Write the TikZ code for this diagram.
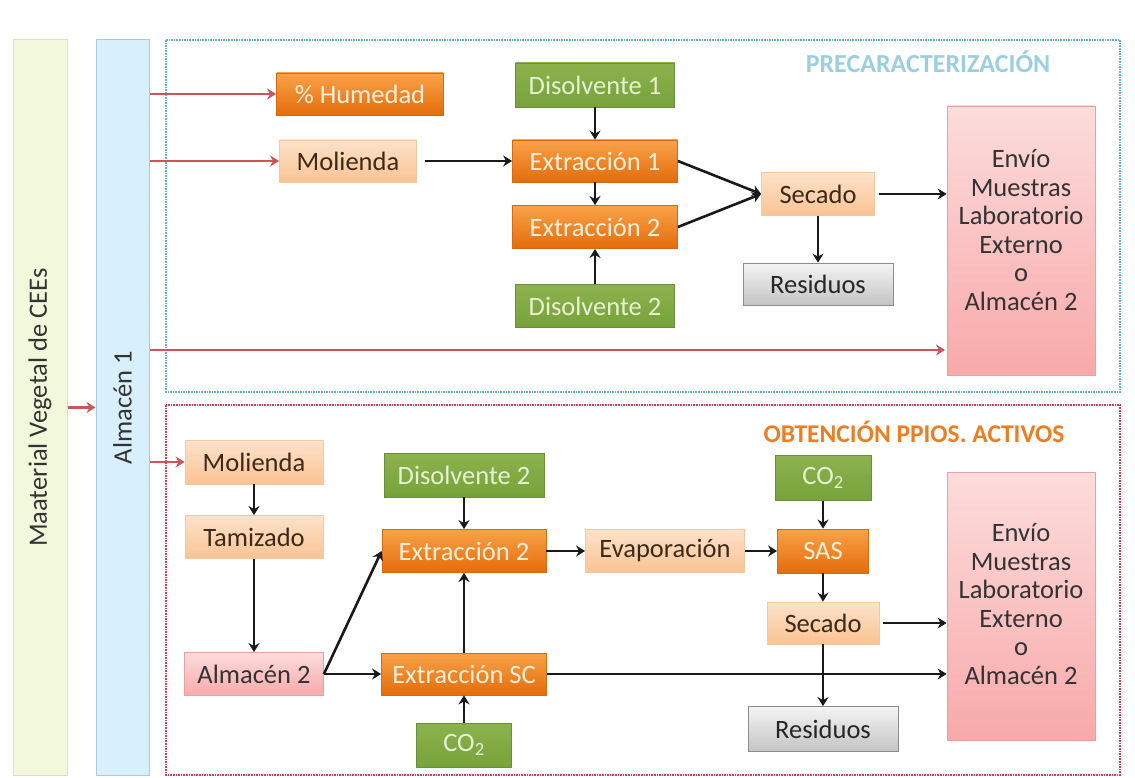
\documentclass[tikz,border=0pt]{standalone}
\usepackage{fontspec}
\setmainfont{Carlito}
\usetikzlibrary{arrows.meta}

\definecolor{oranT}{HTML}{F9A24A}
\definecolor{oranB}{HTML}{E46C0A}
\definecolor{oranL}{HTML}{D9690E}
\definecolor{oranX}{HTML}{FFF0DC}
\definecolor{peachT}{HTML}{FDE2CA}
\definecolor{peachB}{HTML}{FAC393}
\definecolor{peachL}{HTML}{F4C79F}
\definecolor{peachX}{HTML}{3C2A18}
\definecolor{greenT}{HTML}{8DB24E}
\definecolor{greenB}{HTML}{77A23A}
\definecolor{greenL}{HTML}{6A8E3A}
\definecolor{greenX}{HTML}{E6F2D2}
\definecolor{grayT}{HTML}{F4F4F4}
\definecolor{grayB}{HTML}{C4C4C4}
\definecolor{grayL}{HTML}{8C8C8C}
\definecolor{pinkT}{HTML}{FCDCDC}
\definecolor{pinkB}{HTML}{F8A9AA}
\definecolor{pinkL}{HTML}{E8A0A0}
\definecolor{matF}{HTML}{F2F8DC}
\definecolor{matL}{HTML}{D8E2BC}
\definecolor{almF}{HTML}{D8F0FB}
\definecolor{almL}{HTML}{A9CAD8}
\definecolor{redA}{HTML}{CD5458}
\definecolor{blueD}{HTML}{5DB4D4}
\definecolor{redD}{HTML}{E0394B}
\definecolor{titB}{HTML}{9BCFE0}
\definecolor{titO}{HTML}{EE7D22}

\begin{document}
\begin{tikzpicture}[x=1pt,y=-1pt, >={Stealth[length=9pt,width=11pt,inset=3pt]},
	every node/.style={font=\fontsize{26.5}{28.5}\selectfont, inner sep=0pt},
	box/.style={rectangle, minimum height=43pt, line width=0.8pt},
	orangebox/.style={box, draw=oranL, top color=oranT, bottom color=oranB, text=oranX},
	peachbox/.style={box, draw=peachL, top color=peachT, bottom color=peachB, text=peachX},
	greenbox/.style={box, draw=greenL, top color=greenT, bottom color=greenB, text=greenX},
	graybox/.style={box, draw=grayL, top color=grayT, bottom color=grayB, text=black!85},
	pinkbox/.style={box, draw=pinkL, top color=pinkT, bottom color=pinkB, text=black!80},
	arr/.style={->, line width=2.6pt, draw=black!90},
	redarr/.style={->, line width=2.4pt, draw=redA},
	]
	\useasboundingbox (0,0) rectangle (1135,778);
	
	% columnas laterales
	\node[rectangle, draw=matL, line width=1pt, fill=matF, minimum width=54pt, minimum height=735pt] (mat) at (40,407.5) {};
	\node[rotate=90, text=black!80] (matlbl) at (mat.center) {Maaterial Vegetal de CEEs};
	\node[rectangle, draw=almL, line width=1pt, fill=almF, minimum width=53pt, minimum height=735pt] (alm1) at (122.5,407.5) {};
	\node[rotate=90, text=black!80] (alm1lbl) at (alm1.center) {Almacén 1};
	\draw[redarr] (mat.east) -- (alm1.west);
	
	% zonas
	\draw[blueD, densely dotted, line width=1.6pt] (166,40) rectangle (1120,392);
	\draw[redD, densely dotted, line width=1.6pt] (166,405) rectangle (1120,775);
	\node[text=titB, font=\fontsize{26}{30}\selectfont\bfseries] (tit1) at (928,62) {PRECARACTERIZACIÓN};
	\node[text=titO, font=\fontsize{25.5}{30}\selectfont\bfseries] (tit2) at (914,432) {OBTENCIÓN PPIOS. ACTIVOS};
	
	% precaracterizacion
	\node[orangebox, minimum width=167pt, minimum height=42pt] (hum) at (360,94) {\% Humedad};
	\node[peachbox, minimum width=137pt, minimum height=42pt] (mol1) at (348,161) {Molienda};
	\node[greenbox, minimum width=159pt, minimum height=44pt] (dis1) at (595,85) {Disolvente 1};
	\node[orangebox, minimum width=165pt, minimum height=42pt] (ex1) at (595,161) {Extracción 1};
	\node[orangebox, minimum width=165pt] (ex2t) at (595,227) {Extracción 2};
	\node[greenbox, minimum width=159pt] (dis2t) at (595,306) {Disolvente 2};
	\node[peachbox, minimum width=113pt] (sec1) at (818,194) {Secado};
	\node[graybox, minimum width=150pt, minimum height=42pt] (res1) at (818,284) {Residuos};
	\node[pinkbox, minimum width=148pt, minimum height=269pt] (env1) at (1021,240.5) {};
	\node[align=center, text=black!80] (env1lbl) at (1021,230) {Envío\\Muestras\\Laboratorio\\Externo\\o\\Almacén 2};
	\coordinate (e1in) at (945,350);
	
	\draw[redarr] (alm1.east |- hum.west) -- (hum.west);
	\draw[redarr] (alm1.east |- mol1.west) -- (mol1.west);
	\draw[redarr] (alm1.east |- e1in) -- (e1in);
	\draw[arr] (mol1.east) ++(8,0) -- (ex1.west);
	\draw[arr] (dis1.south) -- (ex1.north);
	\draw[arr] (ex1.south) -- (ex2t.north);
	\draw[arr] (dis2t.north) -- (ex2t.south);
	\draw[arr] (ex1.east) -- (sec1.west);
	\draw[arr] (ex2t.east) -- (sec1.west);
	\draw[arr] (sec1.east) ++(4,0) -- (sec1.east -| env1.west);
	\draw[arr] (sec1.south) -- (res1.north);
	
	% obtencion principios activos
	\node[peachbox, minimum width=138pt, minimum height=44pt] (mol2) at (254,462) {Molienda};
	\node[peachbox, minimum width=138pt] (tam) at (254,537) {Tamizado};
	\node[pinkbox, minimum width=139pt] (alm2) at (254,674) {Almacén 2};
	\node[orangebox, minimum width=165pt, minimum height=42pt] (exsc) at (464,674) {Extracción SC};
	\node[greenbox, minimum width=95pt, minimum height=44pt] (co2b) at (464,745) {CO\textsubscript{2}};
	\node[greenbox, minimum width=160pt, minimum height=44pt] (dis2b) at (464,475) {Disolvente 2};
	\node[orangebox, minimum width=164pt] (ex2b) at (464,551) {Extracción 2};
	\node[peachbox, minimum width=159pt] (eva) at (665,551) {Evaporación};
	\node[greenbox, minimum width=96pt, minimum height=45pt] (co2t) at (823,478) {CO\textsubscript{2}};
	\node[orangebox, minimum width=91pt, minimum height=44pt] (sas) at (823,551) {SAS};
	\node[peachbox, minimum width=112pt, minimum height=42pt] (sec2) at (823,623) {Secado};
	\node[graybox, minimum width=150pt, minimum height=45pt] (res2) at (823,729) {Residuos};
	\node[pinkbox, minimum width=148pt, minimum height=268pt] (env2) at (1021,606) {};
	\node[align=center, text=black!80] (env2lbl) at (1021,604) {Envío\\Muestras\\Laboratorio\\Externo\\o\\Almacén 2};
	
	\draw[redarr] (alm1.east |- mol2.west) -- (mol2.west);
	\draw[arr] (mol2.south) -- (tam.north);
	\draw[arr] (tam.south) -- (alm2.north);
	\draw[arr] (alm2.east) -- (exsc.west);
	\draw[arr] (alm2.east) -- (ex2b.west);
	\draw[arr] (dis2b.south) -- (ex2b.north);
	\draw[arr] (exsc.north) -- (ex2b.south);
	\draw[arr] (co2b.north) -- (exsc.south);
	\draw[arr] (ex2b.east) -- (eva.west);
	\draw[arr] (eva.east) -- (sas.west);
	\draw[arr] (co2t.south) -- (sas.north);
	\draw[arr] (sas.south) -- (sec2.north);
	\draw[arr] (sec2.east) ++(4,0) -- (sec2.east -| env2.west);
	\draw[arr] (exsc.east) -- (exsc.east -| env2.west);
	\draw[arr] (sec2.south) -- (res2.north);
\end{tikzpicture}
\end{document}
